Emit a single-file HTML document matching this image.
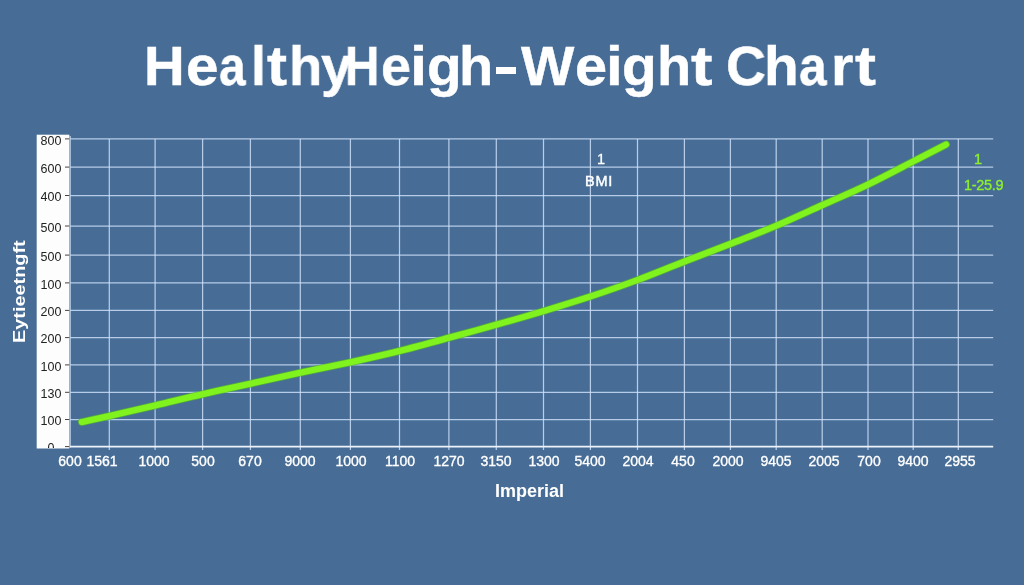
<!DOCTYPE html>
<html><head><meta charset="utf-8"><title>Healthy Height-Weight Chart</title>
<style>
html,body{margin:0;padding:0;}
body{width:1024px;height:585px;overflow:hidden;background:#476d96;font-family:"Liberation Sans",sans-serif;position:relative;}
.t{position:absolute;white-space:nowrap;line-height:1;will-change:transform;}
.ttl{-webkit-text-stroke:0.45px #fff;font-weight:bold;font-size:56px;color:#fff;top:38.4px;transform-origin:0 0;}
.xl{font-size:14px;color:#fff;top:453.6px;transform:translateX(-50%);-webkit-text-stroke:0.35px #fff;}
.yl{font-size:12.5px;color:#222;left:14.6px;transform:translateX(-50%);}
</style></head><body>

<svg width="1024" height="585" viewBox="0 0 1024 585" style="position:absolute;left:0;top:0">
<rect x="36.7" y="134.7" width="32.6" height="313.8" fill="#fdfdfd"/>
<g stroke="#d2e4fc" stroke-width="1.25" fill="none" stroke-opacity="0.8">
<line x1="70.2" y1="138.9" x2="993.2" y2="138.9"/>
<line x1="70.2" y1="167.1" x2="993.2" y2="167.1"/>
<line x1="70.2" y1="195.5" x2="993.2" y2="195.5"/>
<line x1="70.2" y1="226" x2="993.2" y2="226"/>
<line x1="70.2" y1="255.1" x2="993.2" y2="255.1"/>
<line x1="70.2" y1="282.9" x2="993.2" y2="282.9"/>
<line x1="70.2" y1="310.4" x2="993.2" y2="310.4"/>
<line x1="70.2" y1="337.6" x2="993.2" y2="337.6"/>
<line x1="70.2" y1="364.9" x2="993.2" y2="364.9"/>
<line x1="70.2" y1="392.3" x2="993.2" y2="392.3"/>
<line x1="70.2" y1="419.5" x2="993.2" y2="419.5"/>
<line x1="109.3" y1="138.9" x2="109.3" y2="450.1"/>
<line x1="155.1" y1="138.9" x2="155.1" y2="450.1"/>
<line x1="202.6" y1="138.9" x2="202.6" y2="450.1"/>
<line x1="250.4" y1="138.9" x2="250.4" y2="450.1"/>
<line x1="300.3" y1="138.9" x2="300.3" y2="450.1"/>
<line x1="350.4" y1="138.9" x2="350.4" y2="450.1"/>
<line x1="399.5" y1="138.9" x2="399.5" y2="450.1"/>
<line x1="448.9" y1="138.9" x2="448.9" y2="450.1"/>
<line x1="496.3" y1="138.9" x2="496.3" y2="450.1"/>
<line x1="543.5" y1="138.9" x2="543.5" y2="450.1"/>
<line x1="590.4" y1="138.9" x2="590.4" y2="450.1"/>
<line x1="637.5" y1="138.9" x2="637.5" y2="450.1"/>
<line x1="684.4" y1="138.9" x2="684.4" y2="450.1"/>
<line x1="730.4" y1="138.9" x2="730.4" y2="450.1"/>
<line x1="776.2" y1="138.9" x2="776.2" y2="450.1"/>
<line x1="822.2" y1="138.9" x2="822.2" y2="450.1"/>
<line x1="868" y1="138.9" x2="868" y2="450.1"/>
<line x1="913.2" y1="138.9" x2="913.2" y2="450.1"/>
<line x1="958.3" y1="138.9" x2="958.3" y2="450.1"/>
<line x1="70.2" y1="135.9" x2="70.2" y2="447.6"/>
</g>
<line x1="69.7" y1="446.6" x2="993.2" y2="446.6" stroke="#eef3f9" stroke-width="1.8"/>
<g stroke="#444" stroke-width="1">
<line x1="65" y1="138.9" x2="69.3" y2="138.9"/>
<line x1="65" y1="167.1" x2="69.3" y2="167.1"/>
<line x1="65" y1="195.5" x2="69.3" y2="195.5"/>
<line x1="65" y1="226" x2="69.3" y2="226"/>
<line x1="65" y1="255.1" x2="69.3" y2="255.1"/>
<line x1="65" y1="282.9" x2="69.3" y2="282.9"/>
<line x1="65" y1="310.4" x2="69.3" y2="310.4"/>
<line x1="65" y1="337.6" x2="69.3" y2="337.6"/>
<line x1="65" y1="364.9" x2="69.3" y2="364.9"/>
<line x1="65" y1="392.3" x2="69.3" y2="392.3"/>
<line x1="65" y1="419.5" x2="69.3" y2="419.5"/>
<line x1="65" y1="446.6" x2="69.3" y2="446.6"/>
</g>
<path d="M81.8 422.0 C86.4 421.0 97.2 418.8 109.4 416.0 C121.6 413.2 139.5 409.1 155.0 405.5 C170.5 401.9 186.6 397.8 202.5 394.2 C218.4 390.6 234.1 387.3 250.3 383.7 C266.6 380.1 283.3 376.4 300.0 372.8 C316.7 369.2 333.9 365.8 350.5 362.2 C367.1 358.6 383.0 355.1 399.4 351.0 C415.8 346.9 432.8 342.2 448.9 337.8 C465.0 333.4 480.2 329.2 496.0 324.8 C511.8 320.4 527.9 315.8 543.5 311.1 C559.1 306.4 574.2 301.9 589.9 296.7 C605.5 291.5 621.7 285.9 637.4 280.0 C653.1 274.1 668.7 267.6 684.2 261.6 C699.7 255.6 715.1 249.9 730.4 243.9 C745.7 237.9 760.9 232.3 776.2 225.8 C791.5 219.3 807.1 212.0 822.4 205.1 C837.7 198.2 853.0 191.8 868.1 184.5 C883.2 177.2 900.3 168.1 913.3 161.4 C926.3 154.7 940.6 147.3 946.1 144.5" fill="none" stroke="#55b62c" stroke-opacity="0.8" stroke-width="7.7" stroke-linecap="round" stroke-linejoin="round"/>
<path d="M81.8 422.0 C86.4 421.0 97.2 418.8 109.4 416.0 C121.6 413.2 139.5 409.1 155.0 405.5 C170.5 401.9 186.6 397.8 202.5 394.2 C218.4 390.6 234.1 387.3 250.3 383.7 C266.6 380.1 283.3 376.4 300.0 372.8 C316.7 369.2 333.9 365.8 350.5 362.2 C367.1 358.6 383.0 355.1 399.4 351.0 C415.8 346.9 432.8 342.2 448.9 337.8 C465.0 333.4 480.2 329.2 496.0 324.8 C511.8 320.4 527.9 315.8 543.5 311.1 C559.1 306.4 574.2 301.9 589.9 296.7 C605.5 291.5 621.7 285.9 637.4 280.0 C653.1 274.1 668.7 267.6 684.2 261.6 C699.7 255.6 715.1 249.9 730.4 243.9 C745.7 237.9 760.9 232.3 776.2 225.8 C791.5 219.3 807.1 212.0 822.4 205.1 C837.7 198.2 853.0 191.8 868.1 184.5 C883.2 177.2 900.3 168.1 913.3 161.4 C926.3 154.7 940.6 147.3 946.1 144.5" fill="none" stroke="#80f21e" stroke-width="6.1" stroke-linecap="round" stroke-linejoin="round"/>
</svg>
<div class="t ttl" style="left:143.98px;transform:scaleX(1.006)">H</div>
<div class="t ttl" style="left:185.51px;transform:scaleX(1.044)">e</div>
<div class="t ttl" style="left:218.89px;transform:scaleX(0.853)">a</div>
<div class="t ttl" style="left:250.95px;transform:scaleX(0.962)">l</div>
<div class="t ttl" style="left:267.13px;transform:scaleX(1.071)">t</div>
<div class="t ttl" style="left:289.00px;transform:scaleX(0.974)">h</div>
<div class="t ttl" style="left:320.51px;transform:scaleX(0.990)">y</div>
<div class="t ttl" style="left:345.39px;transform:scaleX(0.852)">H</div>
<div class="t ttl" style="left:381.18px;transform:scaleX(0.959)">e</div>
<div class="t ttl" style="left:410.40px;transform:scaleX(1.100)">i</div>
<div class="t ttl" style="left:426.77px;transform:scaleX(1.014)">g</div>
<div class="t ttl" style="left:458.83px;transform:scaleX(0.993)">h</div>
<div class="t ttl" style="left:520.90px;transform:scaleX(1.009)">W</div>
<div class="t ttl" style="left:574.64px;transform:scaleX(1.030)">e</div>
<div class="t ttl" style="left:605.50px;transform:scaleX(1.075)">i</div>
<div class="t ttl" style="left:621.87px;transform:scaleX(1.014)">g</div>
<div class="t ttl" style="left:657.14px;transform:scaleX(0.989)">h</div>
<div class="t ttl" style="left:691.25px;transform:scaleX(1.153)">t</div>
<div class="t ttl" style="left:725.93px;transform:scaleX(0.986)">C</div>
<div class="t ttl" style="left:764.44px;transform:scaleX(1.015)">h</div>
<div class="t ttl" style="left:799.13px;transform:scaleX(0.887)">a</div>
<div class="t ttl" style="left:830.78px;transform:scaleX(1.029)">r</div>
<div class="t ttl" style="left:854.58px;transform:scaleX(1.124)">t</div>
<div class="t" style="left:495.9px;top:66.6px;width:20.1px;height:6.8px;background:#fff"></div>
<div class="t xl" style="left:69.5px">600</div>
<div class="t xl" style="left:102px">1561</div>
<div class="t xl" style="left:153.8px">1000</div>
<div class="t xl" style="left:202.8px">500</div>
<div class="t xl" style="left:250.3px">670</div>
<div class="t xl" style="left:300.3px">9000</div>
<div class="t xl" style="left:350.5px">1000</div>
<div class="t xl" style="left:399.8px">1100</div>
<div class="t xl" style="left:448.8px">1270</div>
<div class="t xl" style="left:496.2px">3150</div>
<div class="t xl" style="left:543.8px">1300</div>
<div class="t xl" style="left:590.2px">5400</div>
<div class="t xl" style="left:637.5px">2004</div>
<div class="t xl" style="left:682.5px">450</div>
<div class="t xl" style="left:727.5px">2000</div>
<div class="t xl" style="left:775.5px">9405</div>
<div class="t xl" style="left:824px">2005</div>
<div class="t xl" style="left:868.5px">700</div>
<div class="t xl" style="left:912.5px">9400</div>
<div class="t xl" style="left:959.7px">2955</div>
<div style="position:absolute;left:36.8px;top:134.7px;width:33.2px;height:313.8px;overflow:hidden">
<div class="t yl" style="top:2.84217e-14px">800</div>
<div class="t yl" style="top:28.2px">600</div>
<div class="t yl" style="top:56.6px">400</div>
<div class="t yl" style="top:87.1px">500</div>
<div class="t yl" style="top:116.2px">500</div>
<div class="t yl" style="top:144px">100</div>
<div class="t yl" style="top:171.5px">200</div>
<div class="t yl" style="top:198.7px">200</div>
<div class="t yl" style="top:226px">100</div>
<div class="t yl" style="top:253.4px">130</div>
<div class="t yl" style="top:280.6px">100</div>
<div class="t yl" style="top:307.7px">0</div>
</div>
<div class="t" id="imp" style="left:495.3px;top:481.5px;font-size:18px;color:#fff;font-weight:bold;letter-spacing:0px">Imperial</div>
<div class="t" id="bmi1" style="left:597.2px;top:151.8px;font-size:14.5px;color:#fff;-webkit-text-stroke:0.3px #fff">1</div>
<div class="t" id="bmi" style="left:584.7px;top:174.4px;font-size:14.5px;color:#fff;-webkit-text-stroke:0.45px #fff;letter-spacing:0.8px">BMI</div>
<div class="t" id="g1" style="left:973.5px;top:152px;font-size:14.5px;color:#8df02e;-webkit-text-stroke:0.35px #8df02e">1</div>
<div class="t" id="g2" style="left:964px;top:177.5px;font-size:14.5px;color:#8df02e;-webkit-text-stroke:0.35px #8df02e;letter-spacing:-0.3px">1-25.9</div>
<div class="t" id="ylab" style="left:11px;top:342.8px;font-size:16.5px;color:#fff;font-weight:bold;transform-origin:0 0;transform:rotate(-90deg) scaleX(1.205)">Eytieetngft</div>
</body></html>
